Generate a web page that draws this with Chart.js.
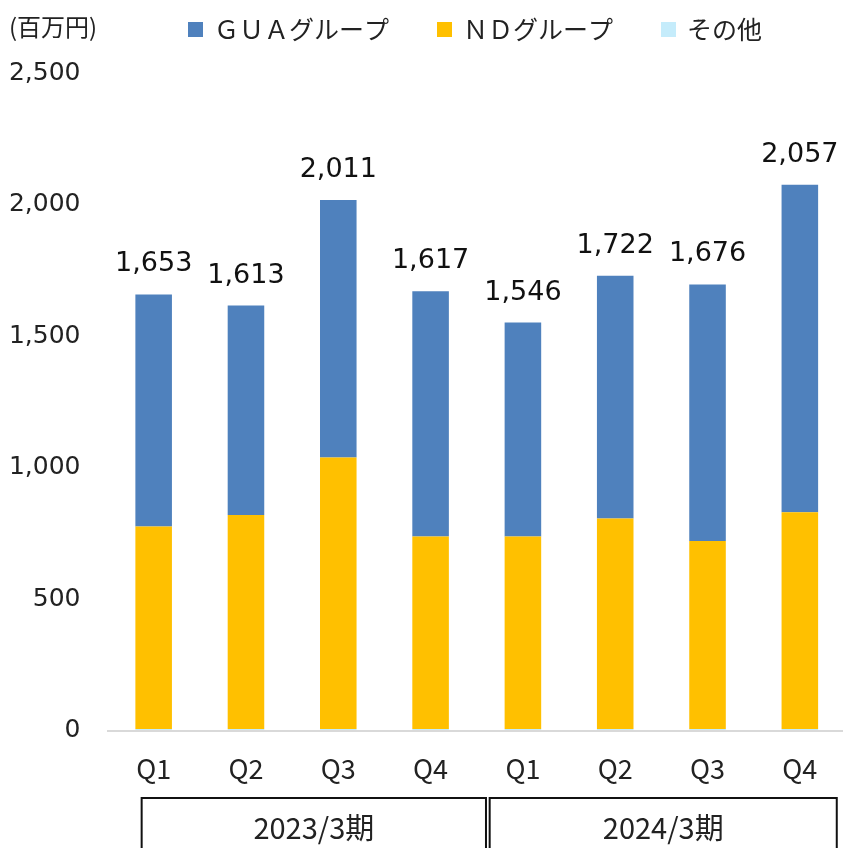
<!DOCTYPE html>
<html>
<head>
<meta charset="utf-8">
<script src="https://cdn.jsdelivr.net/npm/chart.js@4.4.1/dist/chart.umd.min.js"></script>
<style>
html, body { margin: 0; padding: 0; background: #fff; overflow: hidden; }
canvas { display: block; }
</style>
</head>
<body>
<canvas id="mycanvas" width="850" height="848"></canvas>
<script>
// categories and values
var quarters = ['Q1', 'Q2', 'Q3', 'Q4', 'Q1', 'Q2', 'Q3', 'Q4'];
var periods = ['2023/3期', '2024/3期'];
var guaGroup = [882, 797, 979, 932, 813, 923, 975, 1245];
var ndGroup = [770, 813, 1032, 732, 732, 800, 715, 824];
var others = [6, 6, 6, 6, 6, 6, 6, 6];
var totalLabels = ['1,653', '1,613', '2,011', '1,617', '1,546', '1,722', '1,676', '2,057'];
var yTicks = [0, 500, 1000, 1500, 2000, 2500];
var unitLabel = '(百万円)';

var cjk = "'Noto Sans CJK JP', 'Noto Sans', sans-serif";

// legend + unit label on top
var topLegend = {
    id: 'topLegend',
    afterDraw: function(chart) {
        var ctx = chart.ctx;
        ctx.save();
        ctx.fillStyle = '#222';
        ctx.textBaseline = 'middle';
        ctx.textAlign = 'left';
        ctx.font = '24px ' + cjk;
        ctx.fillText(unitLabel, 9, 27);

        ctx.font = '25px ' + cjk;
        var x = 188;
        var sets = chart.data.datasets.slice().reverse();
        for (var i = 0; i < sets.length; i++) {
            ctx.fillStyle = sets[i].backgroundColor;
            ctx.fillRect(x, 22, 15, 15);
            ctx.fillStyle = '#222';
            ctx.fillText(sets[i].label, x + 26, 29);
            x = x + 26 + ctx.measureText(sets[i].label).width + 48;
        }
        ctx.restore();
    }
};

// totals above each stacked bar
var totals = {
    id: 'totals',
    afterDatasetsDraw: function(chart) {
        var ctx = chart.ctx;
        var meta = chart.getDatasetMeta(chart.data.datasets.length - 1);
        ctx.save();
        ctx.fillStyle = '#111';
        ctx.font = "27px 'DejaVu Sans', sans-serif";
        ctx.textAlign = 'center';
        ctx.textBaseline = 'middle';
        meta.data.forEach(function(bar, i) {
            ctx.fillText(totalLabels[i], bar.x, bar.y - 30);
        });
        ctx.restore();
    }
};

// fiscal year boxes under the quarters
var periodBoxes = {
    id: 'periodBoxes',
    afterDraw: function(chart) {
        var ctx = chart.ctx;
        var xs = chart.scales.x;
        var spans = [[-0.13, 3.6], [3.64, 7.4]];
        ctx.save();
        ctx.strokeStyle = '#111';
        ctx.lineWidth = 2;
        ctx.fillStyle = '#222';
        ctx.font = '29px ' + cjk;
        ctx.textAlign = 'center';
        ctx.textBaseline = 'middle';
        for (var i = 0; i < periods.length; i++) {
            var l = xs.getPixelForValue(spans[i][0]);
            var r = xs.getPixelForValue(spans[i][1]);
            ctx.strokeRect(l, 798, r - l, 60);
            ctx.fillText(periods[i], (l + r) / 2, 828);
        }
        ctx.restore();
    }
};

var chartdata = {
    labels: quarters,
    datasets: [
        { label: 'その他', backgroundColor: '#c5ecfb', data: others },
        { label: 'ＮＤグループ', backgroundColor: '#ffc000', data: ndGroup },
        { label: 'ＧＵＡグループ', backgroundColor: '#4f81bd', data: guaGroup }
    ]
};

var ctx1 = document.getElementById('mycanvas');
var barGraph = new Chart(ctx1, {
    type: 'bar',
    data: chartdata,
    plugins: [topLegend, totals, periodBoxes],
    options: {
        responsive: false,
        animation: false,
        layout: { padding: { top: 73, right: 4, left: 0, bottom: 0 } },
        datasets: { bar: { barPercentage: 0.396, categoryPercentage: 1.0 } },
        plugins: {
            legend: { display: false },
            tooltip: { enabled: false }
        },
        scales: {
            x: {
                stacked: true,
                afterFit: function(scale) { scale.height = 117.5; },
                grid: { display: false, drawTicks: false },
                border: { display: true, color: '#d9d9d9', width: 2, z: 1 },
                ticks: {
                    padding: 22,
                    color: '#222',
                    autoSkip: false,
                    maxRotation: 0,
                    font: { family: cjk, size: 27 }
                }
            },
            y: {
                stacked: true,
                min: 0,
                max: 2500,
                afterBuildTicks: function(scale) {
                    scale.ticks = yTicks.map(function(v) { return { value: v }; });
                },
                afterFit: function(scale) { scale.width = 107.5; },
                grid: { display: false, drawTicks: false },
                border: { display: false },
                ticks: {
                    padding: 27,
                    color: '#222',
                    font: { family: "'DejaVu Sans', sans-serif", size: 25 },
                    callback: function(v) { return v.toLocaleString('en-US'); }
                }
            }
        }
    }
});
</script>
</body>
</html>
